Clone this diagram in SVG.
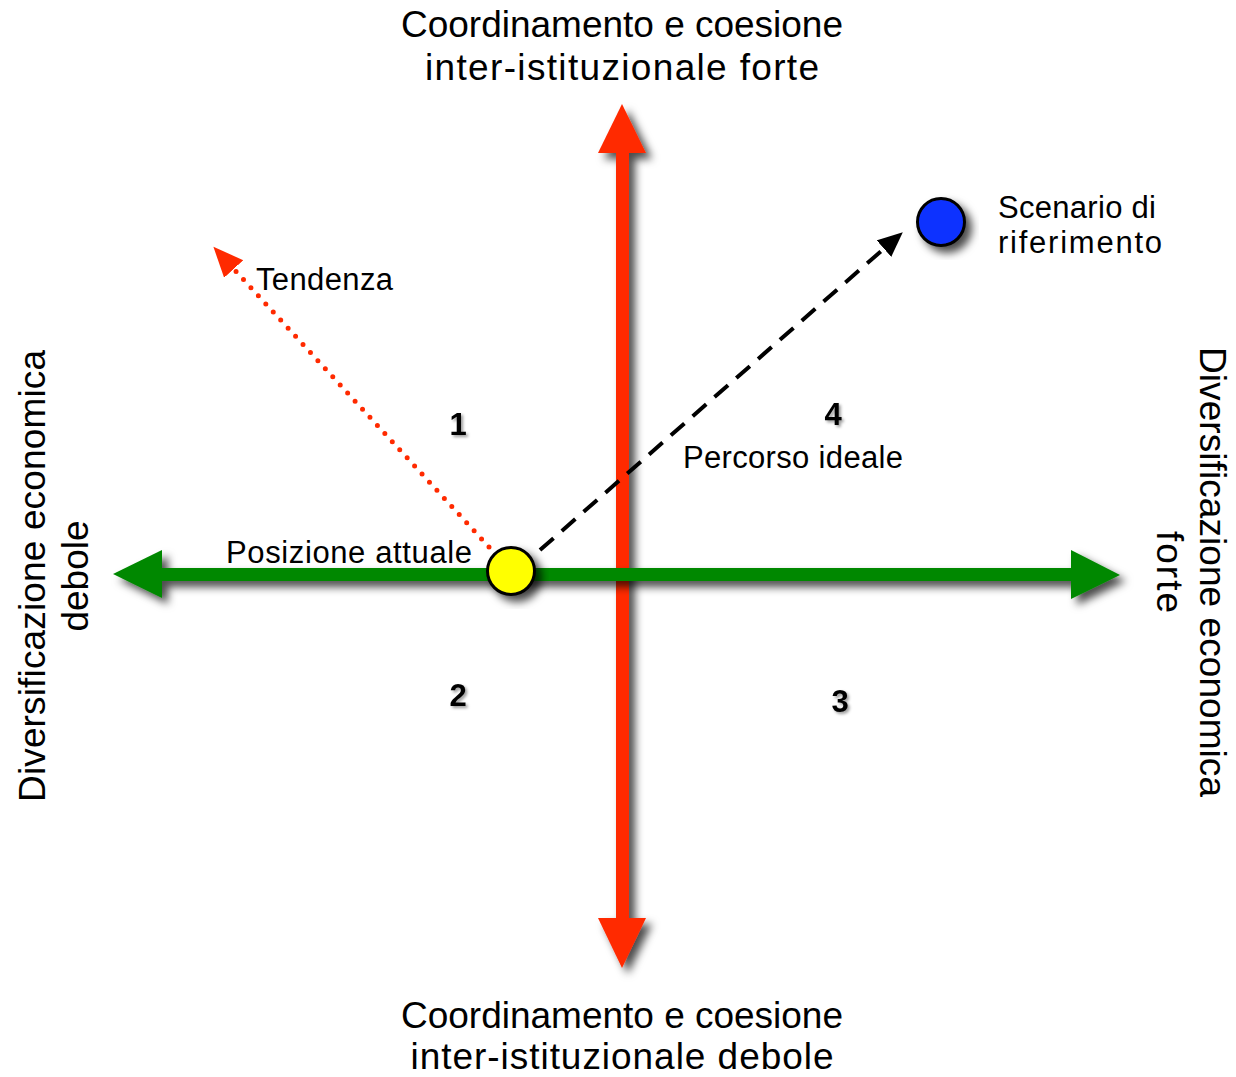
<svg xmlns="http://www.w3.org/2000/svg" width="1236" height="1077" viewBox="0 0 1236 1077">
<defs>
<style>
text{font-family:"Liberation Sans",Arial,sans-serif;fill:#000}
.title{font-size:37px;text-anchor:middle}
.lbl{font-size:31px}
.num{font-size:31px;font-weight:bold;text-anchor:middle}
.red{fill:#ff2a00}
.green{fill:#008800}
</style>
<filter id="sh" x="-20%" y="-20%" width="150%" height="150%">
<feDropShadow dx="6" dy="6" stdDeviation="4" flood-color="#000" flood-opacity="0.7"/>
</filter>
<filter id="shs" x="-20%" y="-20%" width="150%" height="150%">
<feDropShadow dx="2" dy="2" stdDeviation="1.5" flood-color="#000" flood-opacity="0.4"/>
</filter>
<marker id="blackHead" markerUnits="userSpaceOnUse" markerWidth="30" markerHeight="24" refX="4" refY="11" orient="auto">
<path d="M0,0 L25,11 L0,22 z" fill="#000"/>
</marker>
<marker id="redHead" markerUnits="userSpaceOnUse" markerWidth="34" markerHeight="30" refX="4" refY="13" orient="auto">
<path d="M0,0 L30,13 L0,26 z" fill="#ff2a00"/>
</marker>
</defs>

<g id="axis-vertical" filter="url(#sh)">
<rect class="red" x="616" y="150" width="13" height="770"/>
<polygon class="red" points="622,104 646,153 598,153"/>
<polygon class="red" points="598,918 646,918 622,968"/>
</g>
<g id="axis-horizontal" filter="url(#sh)">
<rect class="green" x="160" y="568" width="912" height="13"/>
<polygon class="green" points="113,574 162,550 162,598"/>
<polygon class="green" points="1071,550 1120,575 1071,599"/>
</g>

<g id="connectors">
<line id="tendenza-line" x1="489" y1="547" x2="231" y2="266" stroke="#ff2a00" stroke-width="5" stroke-linecap="round" stroke-dasharray="0 11" marker-end="url(#redHead)"/>
<line id="percorso-line" x1="540" y1="550" x2="887" y2="246" stroke="#000" stroke-width="4" stroke-dasharray="18 11" marker-end="url(#blackHead)"/>
</g>

<g id="posizione-attuale">
<circle cx="511" cy="571" r="23.5" fill="#ffff00" stroke="#000" stroke-width="3" filter="url(#sh)"/>
<text class="lbl" x="226" y="563" textLength="246" lengthAdjust="spacing">Posizione attuale</text>
</g>
<g id="scenario">
<circle cx="941" cy="222" r="23.5" fill="#1133ff" stroke="#000" stroke-width="3" filter="url(#sh)"/>
<text class="lbl" x="998" y="218" textLength="158" lengthAdjust="spacing">Scenario di</text>
<text class="lbl" x="998" y="253" textLength="164" lengthAdjust="spacing">riferimento</text>
</g>

<g id="label-tendenza"><text class="lbl" x="256" y="290" textLength="137" lengthAdjust="spacing">Tendenza</text></g>
<g id="label-percorso"><text class="lbl" x="683" y="468" textLength="220" lengthAdjust="spacing">Percorso ideale</text></g>

<g id="quadrants" filter="url(#shs)">
<text class="num" x="458" y="435">1</text>
<text class="num" x="458" y="706">2</text>
<text class="num" x="840" y="712">3</text>
<text class="num" x="833" y="425">4</text>
</g>

<g id="title-top">
<text class="title" x="622" y="37" textLength="442" lengthAdjust="spacing">Coordinamento e coesione</text>
<text class="title" x="622" y="80" textLength="394" lengthAdjust="spacing">inter-istituzionale forte</text>
</g>
<g id="title-bottom">
<text class="title" x="622" y="1028" textLength="442" lengthAdjust="spacing">Coordinamento e coesione</text>
<text class="title" x="622" y="1069" textLength="423" lengthAdjust="spacing">inter-istituzionale debole</text>
</g>
<g id="title-left" transform="translate(45,576) rotate(-90)">
<text class="title" x="0" y="0" textLength="452" lengthAdjust="spacing">Diversificazione economica</text>
<text class="title" x="0" y="43" textLength="111" lengthAdjust="spacing">debole</text>
</g>
<g id="title-right" transform="translate(1200,572) rotate(90)">
<text class="title" x="0" y="0" textLength="450" lengthAdjust="spacing">Diversificazione economica</text>
<text class="title" x="0" y="43" textLength="82" lengthAdjust="spacing">forte</text>
</g>
</svg>
